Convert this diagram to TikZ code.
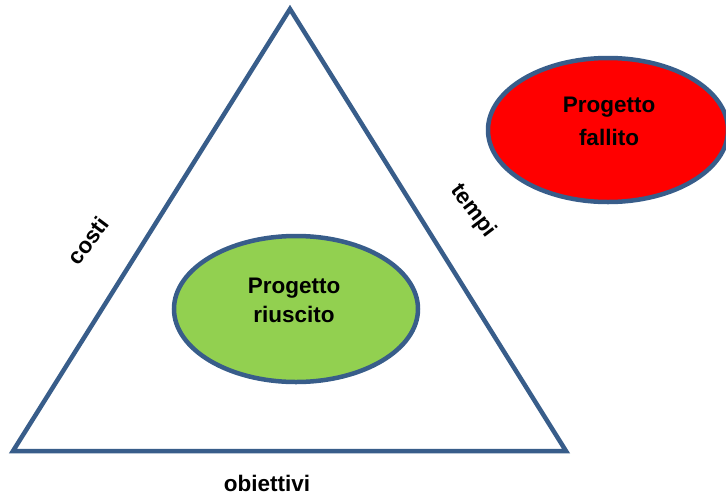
\documentclass[tikz,border=0pt]{standalone}
\usepackage{fontspec}
\setmainfont{Liberation Sans}
\usetikzlibrary{shapes.geometric}
\definecolor{edgeblue}{RGB}{56,93,138}
\definecolor{okgreen}{RGB}{146,208,80}
\definecolor{failred}{RGB}{255,0,0}
\tikzset{
  lbl/.style={font=\fontsize{22.5}{26}\selectfont\bfseries, inner sep=0pt},
  blob/.style={ellipse, draw=edgeblue, line width=4.5pt, inner sep=0pt},
}
\begin{document}
\begin{tikzpicture}[x=1pt,y=-1pt]
\useasboundingbox (0,0) rectangle (726,496);
\fill[white] (0,0) rectangle (726,496);
\coordinate (A) at (290,9);
\coordinate (B) at (13,451);
\coordinate (C) at (566,451);
\draw[edgeblue, line width=4.5pt, line join=miter] (A) -- (B) -- (C) -- cycle;
\node[blob, fill=okgreen, minimum width=244pt, minimum height=146pt] (ok) at (296,309) {};
\node[blob, fill=failred, minimum width=240pt, minimum height=144pt] (fail) at (608,130) {};
\node[lbl, anchor=base] (ok1) at (294,293) {Progetto};
\node[lbl, anchor=base] (ok2) at (294,322) {riuscito};
\node[lbl, anchor=base] (fail1) at (609,112) {Progetto};
\node[lbl, anchor=base] (fail2) at (609,145) {fallito};
\node[lbl, rotate=53] (costi) at (88,241) {costi};
\node[lbl, rotate=-53] (tempi) at (473,211) {tempi};
\node[lbl] (obiettivi) at (267,483) {obiettivi};
\end{tikzpicture}
\end{document}
